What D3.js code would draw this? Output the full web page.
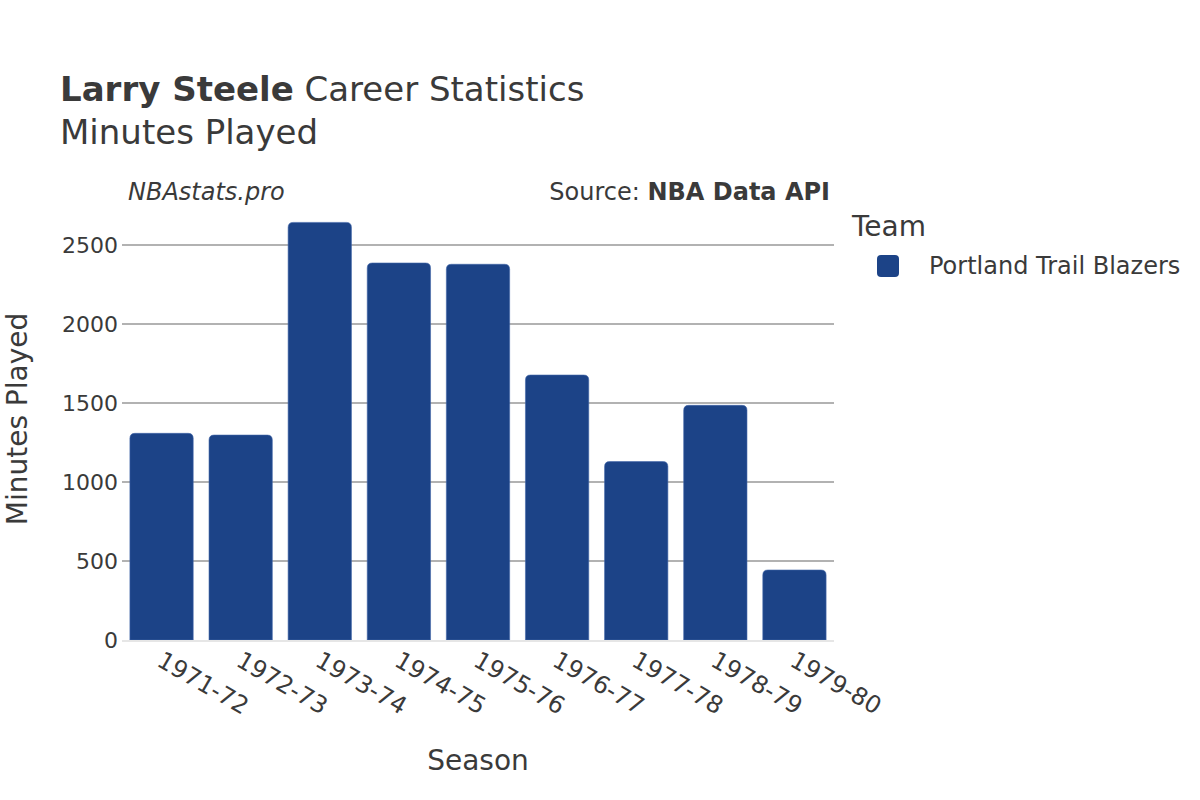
<!DOCTYPE html>
<html><head><meta charset="utf-8">
<script src="https://cdn.jsdelivr.net/npm/d3@7"></script>
<style>body{margin:0;background:#fff}svg{font-family:"DejaVu Sans",Verdana,sans-serif}</style>
</head><body>
<script>
const seasons = ["1971-72","1972-73","1973-74","1974-75","1975-76","1976-77","1977-78","1978-79","1979-80"];
const minutes = [1308,1297,2643,2386,2378,1677,1129,1485,443];
const yTicks = [0,500,1000,1500,2000,2500];
const team = "Portland Trail Blazers";

const W=1200,H=800;
const m={l:122,r:834,t:205,b:640};
const svg=d3.select("body").append("svg").attr("width",W).attr("height",H);
const txt="#3a3a3a";

const x=d3.scaleBand().domain(seasons).range([m.l,m.r]).paddingInner(0.2).paddingOuter(0.1);
const y=d3.scaleLinear().domain([0,2500]).range([m.b,245]);

// gridlines
svg.append("g").selectAll("line").data(yTicks.filter(d=>d>0)).join("line")
 .attr("x1",m.l).attr("x2",m.r).attr("y1",d=>y(d)).attr("y2",d=>y(d))
 .attr("stroke","#999").attr("stroke-width",1.4);

// y tick labels
svg.append("g").selectAll("text").data(yTicks).join("text")
 .attr("x",m.l-4).attr("y",d=>y(d)).attr("dy","0.35em").attr("text-anchor","end")
 .attr("font-size",22).attr("fill",txt).text(d=>d);

// bars
const r=5;
function barPath(x0,w,y0,y1){
  const rr=Math.min(r,(y1-y0)/2);
  return `M${x0},${y1}V${y0+rr}Q${x0},${y0} ${x0+rr},${y0}H${x0+w-rr}Q${x0+w},${y0} ${x0+w},${y0+rr}V${y1}Z`;
}
svg.append("g").selectAll("path").data(seasons).join("path")
 .attr("d",(s,i)=>barPath(x(s),x.bandwidth(),y(minutes[i]),y(0)))
 .attr("fill","#1c4387").attr("stroke","#3f65a8").attr("stroke-width",0.6);

// zero line
svg.append("line").attr("x1",m.l).attr("x2",m.r).attr("y1",y(0)+1).attr("y2",y(0)+1)
 .attr("stroke","#e6e6e6").attr("stroke-width",2);

// x tick labels
svg.append("g").selectAll("text").data(seasons).join("text")
 .attr("transform",s=>`translate(${x(s)+x.bandwidth()/2-6},${m.b+25}) rotate(30)`)
 .attr("font-size",24).attr("fill",txt).text(s=>s);

// axis titles
svg.append("text").attr("x",(m.l+m.r)/2).attr("y",770).attr("text-anchor","middle")
 .attr("font-size",28).attr("fill",txt).text("Season");
svg.append("text").attr("transform",`translate(27,419) rotate(-90)`).attr("text-anchor","middle")
 .attr("font-size",28).attr("fill",txt).text("Minutes Played");

// titles
const t=svg.append("text").attr("x",60).attr("y",101).attr("font-size",34).attr("fill",txt);
t.append("tspan").attr("font-weight","bold").text("Larry Steele");
t.append("tspan").text(" Career Statistics");
svg.append("text").attr("x",60).attr("y",144).attr("font-size",34).attr("fill",txt).text("Minutes Played");

svg.append("text").attr("x",128).attr("y",200).attr("font-size",24).attr("font-style","italic").attr("fill",txt).text("NBAstats.pro");
const s=svg.append("text").attr("x",830).attr("y",200).attr("text-anchor","end").attr("font-size",24).attr("fill",txt);
s.append("tspan").text("Source: ");
s.append("tspan").attr("font-weight","bold").text("NBA Data API");

// legend
svg.append("text").attr("x",852).attr("y",236).attr("font-size",28).attr("fill",txt).text("Team");
svg.append("rect").attr("x",877).attr("y",255).attr("width",22).attr("height",22).attr("rx",4).attr("fill","#1c4387");
svg.append("text").attr("x",929).attr("y",266).attr("dy","0.35em").attr("font-size",24).attr("fill",txt).text(team);
</script>
</body></html>
